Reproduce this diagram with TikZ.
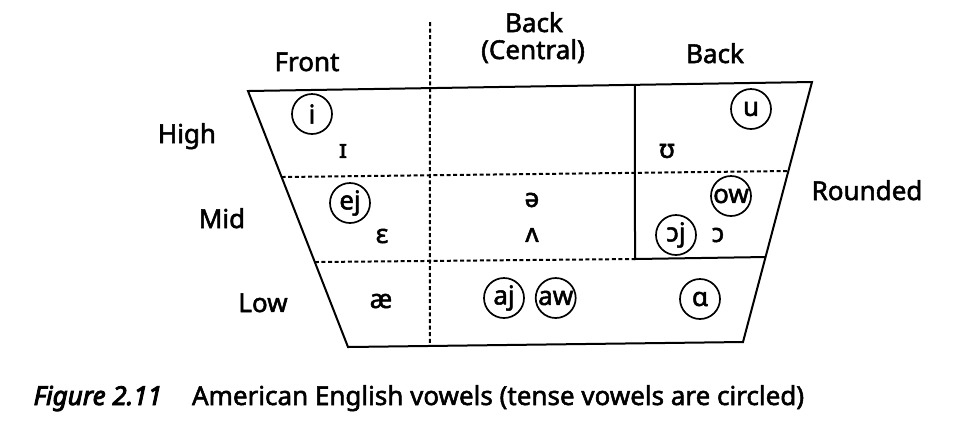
\documentclass[tikz,border=0pt]{standalone}
\usepackage{fontspec}
\setmainfont{Noto Sans}[FakeBold=2]
\newfontfamily\figfont{Noto Sans}[FakeBold=3.5]
\usetikzlibrary{positioning}
\tikzstyle{tense}=[draw,circle,line width=0.85pt,inner sep=0pt,minimum size=20pt,
  font=\fontsize{13}{15}\selectfont]
\tikzstyle{lax}=[inner sep=0pt,font=\fontsize{13}{15}\selectfont]
\tikzstyle{grid}=[line width=1pt,dash pattern=on 2pt off 1.3pt]

\begin{document}
\begin{tikzpicture}[x=0.5pt, y=-0.5pt, line width=1pt]
  \tikzstyle{lbl}=[anchor=base, inner sep=0pt, font=\fontsize{13}{15}\selectfont]
  \tikzstyle{captxt}=[anchor=base west, inner sep=0pt, font=\fontsize{13}{15}\selectfont]
  \useasboundingbox (0,0) rectangle (960,425);

  % corners of the chart
  \coordinate (tl) at (248,91);
  \coordinate (tr) at (812,82);
  \coordinate (br) at (743,342);
  \coordinate (bl) at (348,347);
  \draw (tl) -- (tr) -- (br) -- (bl) -- cycle;

  % row and column borders
  \coordinate (hmL) at (intersection of tl--bl and 0,177--1,177);
  \coordinate (hmR) at (intersection of tr--br and 0,171--1,171);
  \coordinate (mlL) at (intersection of tl--bl and 0,262--1,262);
  \coordinate (mlM) at (635,259);
  \coordinate (mlR) at (intersection of tr--br and 0,257--1,257);
  \coordinate (bkT) at (intersection of tl--tr and 635,0--635,1);
  \coordinate (ctT) at (430,22);
  \coordinate (ctB) at (intersection of bl--br and 430,0--430,1);

  \draw[grid] (hmL) -- (hmR);
  \draw[grid] (mlL) -- (mlM);
  \draw[grid] (ctT) -- (ctB);
  \draw (bkT) -- (mlM) -- (mlR);

  % headings
  \node[lbl] (front) at (307,71) {Front};
  \node[lbl] (backc) at (534,32) {Back};
  \node[lbl] (central) at (533,59) {(Central)};
  \node[lbl] (back) at (715,63) {Back};
  \node[lbl] (high) at (187,143) {High};
  \node[lbl] (mid) at (222,228) {Mid};
  \node[lbl] (low) at (263,312) {Low};
  \node[lbl] (rounded) at (867,200) {Rounded};

  % vowels
  \node[tense] (i) at (312,114) {i};
  \node[lax] (I) at (343,151) {ɪ};
  \node[tense] (u) at (751,109) {u};
  \node[lax] (U) at (667,151) {ʊ};
  \node[tense] (ej) at (350,203) {ej};
  \node[lax] (E) at (382,236) {ɛ};
  \node[lax] (schwa) at (532,200) {ə};
  \node[lax] (V) at (532,235) {ʌ};
  \node[tense] (ow) at (731,196) {ow};
  \node[tense] (Oj) at (676,235) {ɔj};
  \node[lax, right=21pt of Oj.center, anchor=center] (O) {ɔ};
  \node[lax] (ae) at (381,301) {æ};
  \node[tense] (aj) at (504,298) {aj};
  \node[tense, right=5pt of aj] (aw) {aw};
  \node[tense] (A) at (700,299) {ɑ};

  % caption
  \node[captxt, anchor=base east, font=\fontsize{13}{15}\figfont\itshape] (fig) at (163,405) {Figure 2.11};
  \node[captxt] (captext) at (191,405) {American English vowels (tense vowels are circled)};
\end{tikzpicture}
\end{document}
